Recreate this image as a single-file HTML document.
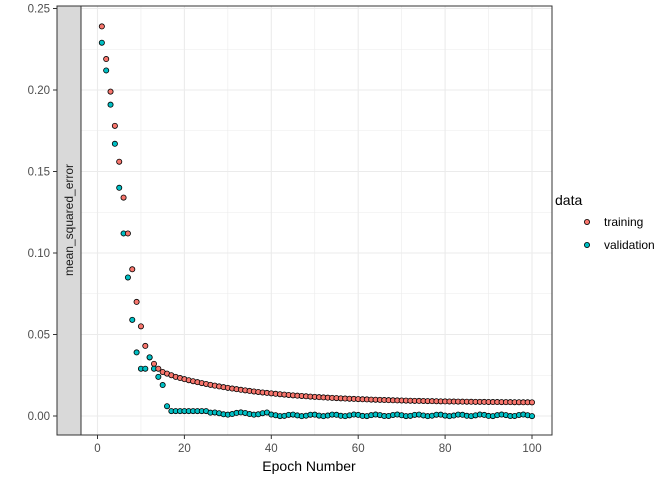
<!DOCTYPE html>
<html><head><meta charset="utf-8"><style>
body{margin:0;background:#fff}
svg{display:block;font-family:"Liberation Sans",sans-serif}
</style></head><body>
<svg id="s" width="672" height="480" xmlns="http://www.w3.org/2000/svg">
<rect x="0" y="0" width="672" height="480" fill="#fff"/>
<g id="grid"></g>
<rect x="57" y="6" width="24" height="429" fill="#d9d9d9" stroke="#333" stroke-width="1"/>
<text transform="translate(73,220) rotate(-90)" text-anchor="middle" font-size="12" fill="#1a1a1a">mean_squared_error</text>
<rect x="81" y="6" width="471" height="429" fill="none" stroke="#333" stroke-width="1"/>
<g id="pts"></g>
<text x="309" y="471" text-anchor="middle" font-size="14" fill="#000">Epoch Number</text>
<text x="555" y="205" font-size="14" fill="#000">data</text>
<circle cx="587" cy="222" r="2.6" fill="#F8766D" stroke="#000" stroke-width="0.8"/>
<circle cx="587" cy="245" r="2.6" fill="#00BFC4" stroke="#000" stroke-width="0.8"/>
<text x="604" y="226" font-size="12" fill="#000">training</text>
<text x="604" y="249" font-size="12" fill="#000">validation</text>
</svg>
<script>
const X=e=>97.5+4.345*e, Y=v=>416-1630*v;
let g='';
for(let e=-10;e<=110;e+=10){const x=X(e);if(x<81||x>552)continue;g+=`<line x1="${x}" y1="6" x2="${x}" y2="435" stroke="#ebebeb" stroke-width="${e%20==0?1.1:0.6}"/>`;}
for(let i=0;i<=10;i++){const v=i*0.025,y=Y(v);if(y<6)continue;g+=`<line x1="81" y1="${y}" x2="552" y2="${y}" stroke="#ebebeb" stroke-width="${i%2==0?1.1:0.6}"/>`;}
for(let i=0;i<=5;i++){const v=i*0.05,y=Y(v);g+=`<line x1="53" y1="${y}" x2="57" y2="${y}" stroke="#333"/><text x="50" y="${y+4}" text-anchor="end" font-size="11.5" fill="#4d4d4d">${v.toFixed(2)}</text>`;}
for(let e=0;e<=100;e+=20){const x=X(e);g+=`<line x1="${x}" y1="435" x2="${x}" y2="439" stroke="#333"/><text x="${x}" y="452" text-anchor="middle" font-size="11.5" fill="#4d4d4d">${e}</text>`;}
document.getElementById('grid').innerHTML=g;
const tr=[0.239,0.219,0.199,0.178,0.156,0.134,0.112,0.090,0.070,0.055,0.043,0.036,0.032,0.029,0.027,0.026,0.025,0.024];
const va=[0.229,0.212,0.191,0.167,0.140,0.112,0.085,0.059,0.039,0.029,0.029,0.036,0.029,0.024,0.019,0.006];
let p='';
for(let e=1;e<=100;e++){
 let t=e<=tr.length?tr[e-1]:0.008+0.016*Math.exp(-(e-18)/22);
 let v=e<=va.length?va[e-1]:(e<26?0.003:(e<40?0.0015+0.0007*Math.sin(e):0.0004+0.0005*Math.sin(e*1.3)));
 p+=`<circle cx="${X(e)}" cy="${Y(t)}" r="2.6" fill="#F8766D" stroke="#000" stroke-width="0.8"/>`;
 p+=`<circle cx="${X(e)}" cy="${Y(v)}" r="2.6" fill="#00BFC4" stroke="#000" stroke-width="0.8"/>`;
}
document.getElementById('pts').innerHTML=p;
</script>
</body></html>
